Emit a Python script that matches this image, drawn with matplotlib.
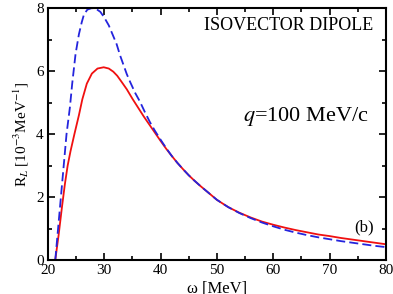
import matplotlib
matplotlib.use('Agg')
import matplotlib.pyplot as plt
from matplotlib.ticker import MultipleLocator

plt.rcParams['font.family'] = ['Liberation Serif', 'DejaVu Serif']
plt.rcParams['mathtext.fontset'] = 'stix'

# solid red curve
omega_red = [21.3, 21.9, 22.5, 23.0, 23.5, 24.0, 24.7, 25.5, 26.1, 26.9, 27.8, 28.8,
             29.9, 30.8, 31.6, 32.3, 33.1, 34.0, 35.0, 36.0, 37.0, 38.0, 39.0, 40.0,
             41.0, 42.0, 43.0, 44.0, 45.0, 46.0, 47.0, 48.0, 49.0, 50.0, 52.0, 54.0,
             56.0, 58.0, 60.0, 62.0, 64.0, 66.0, 68.0, 70.0, 72.0, 74.0, 76.0, 78.0, 80.0]
rl_red = [0.0, 0.8, 1.7, 2.4, 3.0, 3.45, 4.0, 4.6, 5.1, 5.6, 5.92, 6.08,
          6.12, 6.08, 5.98, 5.85, 5.65, 5.42, 5.12, 4.84, 4.56, 4.3, 4.04, 3.78,
          3.53, 3.3, 3.08, 2.88, 2.69, 2.52, 2.36, 2.21, 2.06, 1.91, 1.68, 1.5,
          1.35, 1.22, 1.12, 1.03, 0.95, 0.88, 0.81, 0.76, 0.7, 0.65, 0.6, 0.55, 0.5]

# dashed blue curve
omega_blue = [21.3, 21.7, 22.1, 22.5, 22.9, 23.3, 23.9, 24.3, 24.9, 25.5, 26.0, 26.4,
              27.0, 27.8, 28.5, 29.3, 30.0, 30.8, 31.5, 32.2, 32.8, 33.4, 34.0, 34.6,
              35.5, 36.3, 37.2, 38.1, 39.0, 40.0, 41.0, 42.0, 43.0, 44.0, 45.0, 46.0,
              47.0, 48.0, 49.0, 50.0, 52.0, 54.0, 56.0, 58.0, 60.0, 62.0, 64.0, 66.0,
              68.0, 70.0, 72.0, 74.0, 76.0, 78.0, 80.0]
rl_blue = [0.0, 0.8, 1.6, 2.4, 3.2, 4.0, 4.85, 5.59, 6.54, 7.17, 7.55, 7.8,
           7.95, 8.0, 7.98, 7.88, 7.7, 7.45, 7.15, 6.85, 6.5, 6.2, 5.9, 5.65,
           5.3, 5.04, 4.7, 4.38, 4.1, 3.82, 3.55, 3.3, 3.08, 2.88, 2.69, 2.52,
           2.36, 2.21, 2.06, 1.91, 1.68, 1.49, 1.33, 1.19, 1.07, 0.96, 0.87, 0.79,
           0.72, 0.66, 0.6, 0.55, 0.5, 0.45, 0.41]

fig = plt.figure(figsize=(3.93, 2.94), dpi=100)
ax = fig.add_axes([0.122, 0.1156, 0.860, 0.857])

ax.plot(omega_red, rl_red, color='#f01010', lw=1.3)
ax.plot(omega_blue, rl_blue, color='#2424dd', lw=1.3, dashes=(5, 2.3), clip_on=False)

ax.set_xlim(20, 80)
ax.set_ylim(0, 8)
ax.xaxis.set_major_locator(MultipleLocator(10))
ax.xaxis.set_minor_locator(MultipleLocator(5))
ax.yaxis.set_major_locator(MultipleLocator(2))
ax.yaxis.set_minor_locator(MultipleLocator(1))
ax.tick_params(which='both', direction='in', top=True, right=True, labelsize=11, width=1.2)
ax.tick_params(which='major', length=5, pad=3)
ax.tick_params(which='minor', length=3)
for s in ax.spines.values():
    s.set_linewidth(1.5)

ax.set_xlabel(r'ω [MeV]', fontsize=12, labelpad=3)
ax.set_ylabel(r'R$_L$ [10$^{-3}$MeV$^{-1}$]', fontsize=11, labelpad=4)

ax.text(0.962, 0.929, 'ISOVECTOR DIPOLE', transform=ax.transAxes, ha='right', va='center', fontsize=13)
ax.text(0.95, 0.57, r'$q$=100 MeV/c', transform=ax.transAxes, ha='right', va='center', fontsize=16)
ax.text(0.965, 0.13, '(b)', transform=ax.transAxes, ha='right', va='center', fontsize=12)

fig.savefig('out.png', dpi=100)
